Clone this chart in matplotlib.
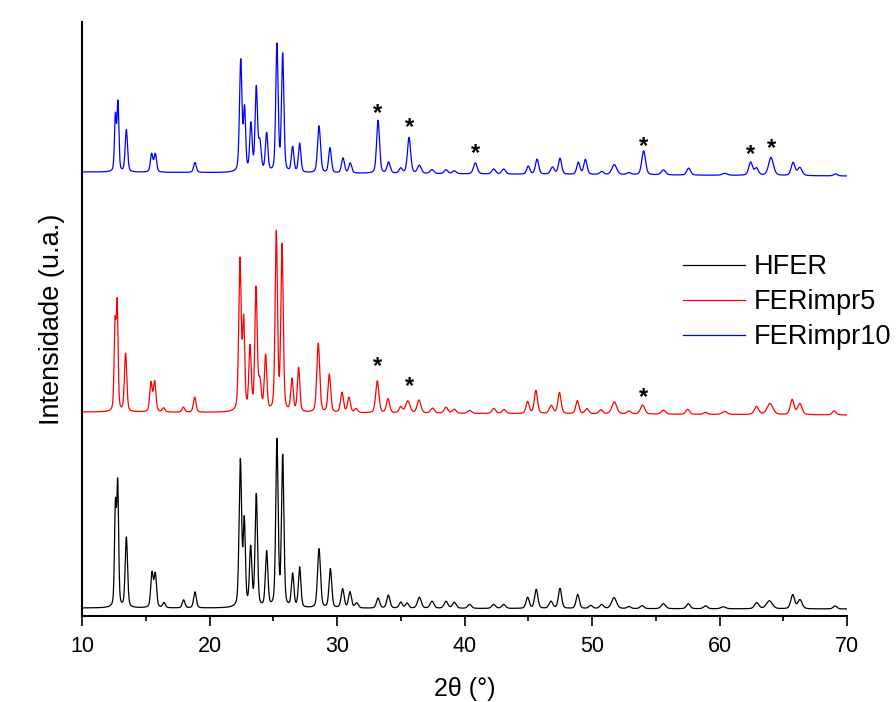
import numpy as np
import matplotlib
matplotlib.use("Agg")
import matplotlib.pyplot as plt

plt.rcParams["font.family"] = ["Liberation Sans", "DejaVu Sans"]

# peak lists: position (2theta), height above baseline, width (FWHM)
hfer_pos = [12.62, 12.80, 13.48, 15.49, 15.75, 16.43, 17.97, 18.86, 22.42, 22.73,
            23.23, 23.67, 24.48, 25.29, 25.74, 26.52, 27.07, 28.59, 29.48, 30.44,
            31.02, 31.54, 33.22, 34.03, 35.0, 35.5, 36.46, 37.45, 38.55, 39.2,
            40.4, 42.29, 43.07, 44.95, 45.63, 46.78, 47.49, 48.88, 49.9, 50.76,
            51.73, 52.9, 53.92, 55.6, 57.55, 58.9, 60.3, 62.92, 63.91, 65.74,
            66.31, 69.06]
hfer_int = [98, 120, 70, 34, 33, 5, 8, 16, 146, 84,
            58, 112, 55, 166, 150, 33, 40, 59, 39, 19,
            16, 5, 10, 13, 6, 5, 11, 7, 7, 6,
            4, 4, 4, 11, 19, 7, 20, 14, 3, 4,
            11, 2, 3, 5, 5, 3, 2, 6, 8, 14,
            9, 3]
hfer_fwhm = [0.17, 0.17, 0.22, 0.23, 0.23, 0.25, 0.25, 0.25, 0.23, 0.2,
             0.22, 0.22, 0.23, 0.22, 0.22, 0.23, 0.23, 0.27, 0.25, 0.27,
             0.27, 0.3, 0.3, 0.3, 0.3, 0.3, 0.35, 0.35, 0.35, 0.35,
             0.35, 0.35, 0.35, 0.3, 0.3, 0.35, 0.3, 0.3, 0.35, 0.35,
             0.45, 0.35, 0.35, 0.4, 0.35, 0.35, 0.45, 0.4, 0.55, 0.35,
             0.4, 0.35]

imp5_pos = [12.59, 12.76, 13.42, 15.41, 15.70, 16.4, 17.95, 18.84, 22.39, 22.68,
            23.18, 23.65, 23.95, 24.40, 25.24, 25.69, 26.47, 26.99, 28.53, 29.40,
            30.39, 30.94, 31.5, 33.16, 34.0, 35.0, 35.55, 36.43, 37.5, 38.55,
            39.2, 40.4, 42.3, 43.1, 44.95, 45.6, 46.8, 47.45, 48.85, 49.6,
            50.7, 51.75, 52.9, 53.97, 55.6, 57.5, 58.9, 60.4, 62.9, 63.96,
            65.7, 66.3, 69.0]
imp5_int = [83, 104, 58, 29, 30, 4, 5, 15, 151, 88,
            63, 122, 28, 55, 178, 165, 32, 44, 69, 38,
            20, 15, 4, 32, 14, 6, 12, 13, 5, 6,
            4, 3, 5, 4, 12, 23, 8, 21, 13, 5,
            4, 12, 3, 9, 4, 5, 2, 3, 8, 11,
            15, 11, 4]
imp5_fwhm = [0.17, 0.17, 0.22, 0.23, 0.23, 0.25, 0.25, 0.25, 0.23, 0.2,
             0.22, 0.22, 0.25, 0.23, 0.22, 0.22, 0.23, 0.23, 0.27, 0.25,
             0.27, 0.27, 0.3, 0.3, 0.3, 0.3, 0.4, 0.35, 0.35, 0.35,
             0.35, 0.35, 0.35, 0.35, 0.3, 0.3, 0.35, 0.3, 0.3, 0.35,
             0.35, 0.45, 0.35, 0.4, 0.4, 0.35, 0.35, 0.45, 0.4, 0.55,
             0.35, 0.4, 0.35]

imp10_pos = [12.62, 12.82, 13.48, 15.46, 15.75, 18.86, 22.45, 22.75, 23.25, 23.67,
             23.95, 24.48, 25.29, 25.74, 26.52, 27.07, 28.59, 29.45, 30.47, 31.04,
             33.22, 34.05, 35.0, 35.65, 36.46, 37.45, 38.55, 39.2, 40.85, 42.29,
             43.07, 45.0, 45.69, 46.9, 47.49, 48.93, 49.48, 50.76, 51.75, 52.9,
             54.05, 55.6, 57.58, 60.4, 62.44, 62.9, 64.04, 65.77, 66.3, 69.1]
imp10_int = [55, 68, 42, 18, 18, 10, 111, 61, 47, 83,
             28, 38, 127, 117, 25, 29, 47, 25, 15, 10,
             53, 11, 5, 36, 8, 4, 4, 3, 11, 5,
             5, 8, 15, 7, 16, 12, 15, 3, 10, 2,
             24, 5, 7, 2, 13, 7, 18, 13, 8, 2]
imp10_fwhm = [0.17, 0.17, 0.22, 0.23, 0.23, 0.25, 0.23, 0.2, 0.22, 0.22,
              0.25, 0.23, 0.22, 0.22, 0.23, 0.23, 0.27, 0.25, 0.27, 0.27,
              0.27, 0.3, 0.3, 0.3, 0.35, 0.35, 0.35, 0.35, 0.35, 0.35,
              0.35, 0.3, 0.3, 0.35, 0.3, 0.3, 0.3, 0.35, 0.45, 0.35,
              0.35, 0.4, 0.35, 0.45, 0.35, 0.35, 0.45, 0.35, 0.4, 0.35]

# baseline level at 10 and 70 degrees (vertical offset of each pattern)
hfer_base = [8, 7]
imp5_base = [204, 201]
imp10_base = [444, 440]

# asterisks marking the extra reflections
star5_x = [33.2, 35.65, 54.05]
star5_y = [249, 229, 218]
star10_x = [33.2, 35.65, 40.85, 54.05, 62.45, 64.05]
star10_y = [502, 488, 462, 469, 461, 467]

labels = ["HFER", "FERimpr5", "FERimpr10"]
colors = ["black", "red", "blue"]


def pattern(x, pos, inten, fwhm, base):
    y = base[0] + (base[1] - base[0]) * (x - 10) / 60.0
    for p, h, w in zip(pos, inten, fwhm):
        g = np.exp(-4 * np.log(2) * ((x - p) / w) ** 2)
        lor = 1.0 / (1 + 4 * ((x - p) / w) ** 2)
        y = y + h * (0.65 * g + 0.35 * lor)
    return y


two_theta = np.arange(10, 70.001, 0.01)

fig = plt.figure(figsize=(8.96, 7.02), dpi=100)
ax = fig.add_axes([82 / 896, 1 - 616 / 702, (847 - 82) / 896, (616 - 22) / 702])

series = [(hfer_pos, hfer_int, hfer_fwhm, hfer_base),
          (imp5_pos, imp5_int, imp5_fwhm, imp5_base),
          (imp10_pos, imp10_int, imp10_fwhm, imp10_base)]
for (pos, inten, fwhm, base), lab, col in zip(series, labels, colors):
    ax.plot(two_theta, pattern(two_theta, pos, inten, fwhm, base), color=col,
            lw=0.9, label=lab)

for sx, sy in zip(star5_x + star10_x, star5_y + star10_y):
    ax.text(sx, sy, "*", ha="center", va="center", fontsize=17, fontweight="bold")

ax.set_xlim(10, 70)
ax.set_ylim(0, 594)
ax.set_xticks(np.arange(10, 71, 10))
ax.set_xticks(np.arange(15, 70, 10), minor=True)
ax.set_yticks([])
ax.spines["top"].set_visible(False)
ax.spines["right"].set_visible(False)
ax.spines["bottom"].set_linewidth(1.5)
ax.spines["left"].set_linewidth(1.5)
ax.tick_params(axis="x", which="major", direction="out", length=7.5, width=1.2,
               labelsize=15.5, pad=7)
ax.tick_params(axis="x", which="minor", direction="out", length=3.8, width=1.2)

ax.set_xlabel("2θ (°)", fontsize=18, labelpad=14)
ax.set_ylabel("Intensidade (u.a.)", fontsize=19.5, labelpad=12)

ax.legend(loc="upper left", bbox_to_anchor=(683 / 896, 1 - 254 / 702),
          bbox_transform=fig.transFigure, frameon=False, fontsize=19.5,
          handlelength=2.3, handletextpad=0.33, labelspacing=0.34,
          borderpad=0, borderaxespad=0)

fig.savefig("out.png", dpi=100)
